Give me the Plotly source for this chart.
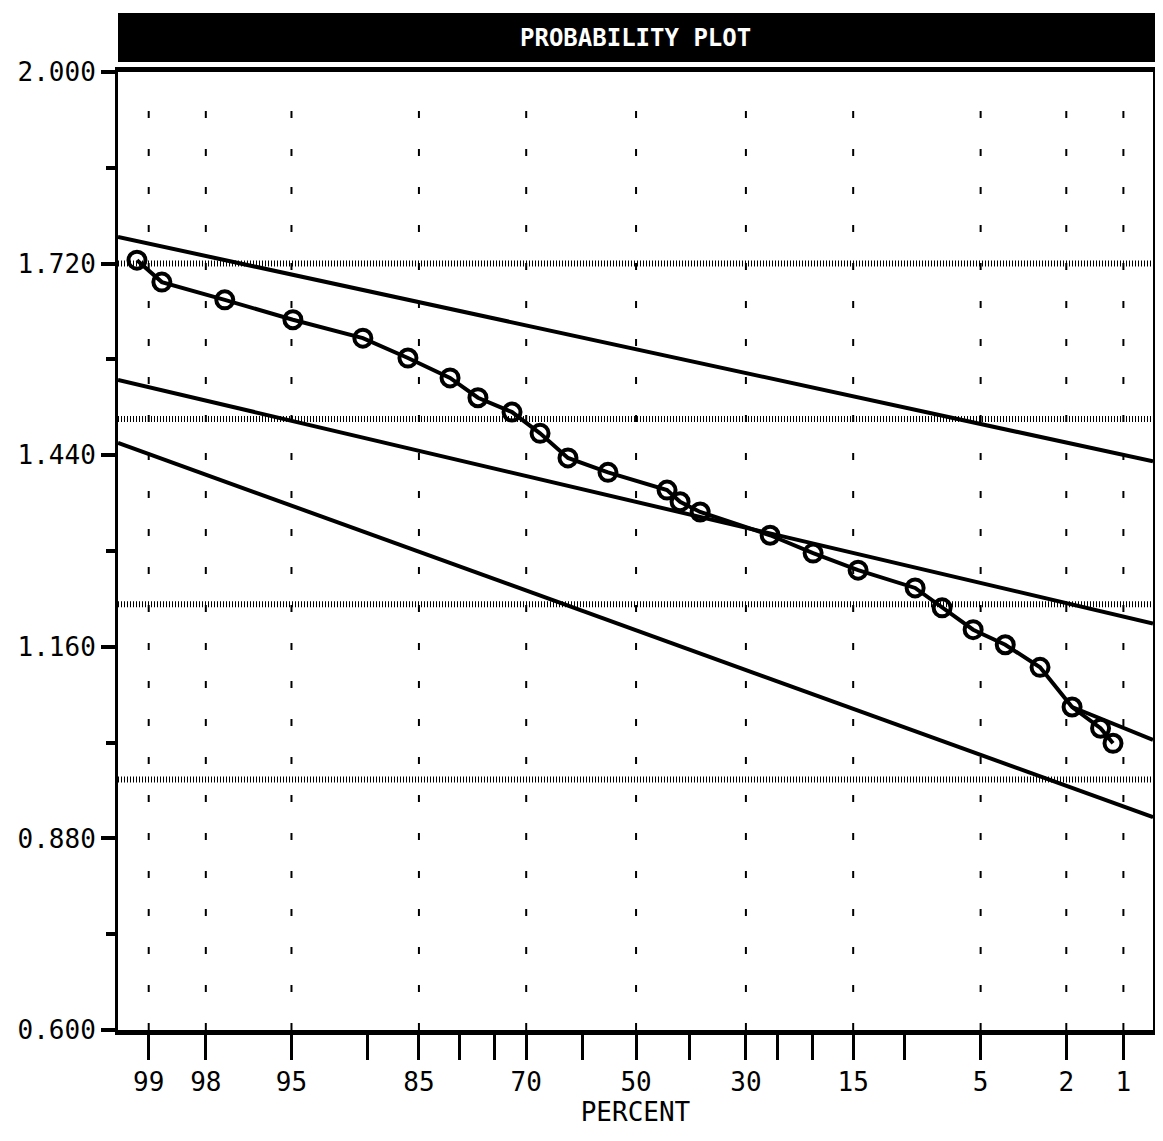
import plotly.graph_objects as go
from statistics import NormalDist

# ---------------- data ----------------
major_pct = [99, 98, 95, 85, 70, 50, 30, 15, 5, 2, 1]
minor_pct = [90, 80, 75, 60, 40, 25, 20, 10]
y_ticks = [0.600, 0.880, 1.160, 1.440, 1.720, 2.000]
y_minor = [0.740, 1.020, 1.300, 1.580, 1.860]

data_pct = [99.14, 98.82, 97.52, 94.93, 90.39, 86.19, 81.27, 77.48, 72.31, 67.66,
            62.74, 55.33, 44.12, 41.68, 37.98, 26.11, 19.90, 14.46, 9.14, 7.20,
            5.38, 3.90, 2.69, 1.87, 1.33, 1.14]
data_val = [1.725, 1.693, 1.667, 1.638, 1.611, 1.582, 1.553, 1.524, 1.503, 1.472,
            1.436, 1.415, 1.389, 1.372, 1.357, 1.323, 1.297, 1.272, 1.246, 1.217,
            1.185, 1.163, 1.130, 1.072, 1.041, 1.019]

# curve tail that continues past the last circles to the right edge
tail_pct = [1.87, 0.68]
tail_val = [1.072, 1.024]

edge_pct = [99.33, 0.68]
upper_line_val = [1.759, 1.431]
middle_line_val = [1.550, 1.194]
lower_line_val = [1.458, 0.911]

ref_levels = [1.720, 1.493, 1.222, 0.966]

# ---------------- helpers ----------------
nd = NormalDist()


def pos(p):
    return nd.inv_cdf(1 - p / 100.0)


FONT = "DejaVu Sans Mono"
x_lo, x_hi = pos(edge_pct[0]), pos(edge_pct[1])

fig = go.Figure()

# vertical dotted grid at labelled percents
for p in major_pct:
    fig.add_trace(go.Scatter(
        x=[pos(p), pos(p)], y=[0.6, 1.97], mode="lines",
        line=dict(color="black", width=2, dash="7px,31px"),
        hoverinfo="skip", showlegend=False))

# horizontal dotted reference levels
for v in ref_levels:
    fig.add_trace(go.Scatter(
        x=[x_lo, x_hi], y=[v, v], mode="lines",
        line=dict(color="black", width=6, dash="1px,2px"),
        hoverinfo="skip", showlegend=False))

# straight lines
for vals in (upper_line_val, middle_line_val, lower_line_val):
    fig.add_trace(go.Scatter(
        x=[pos(p) for p in edge_pct], y=vals, mode="lines",
        line=dict(color="black", width=4),
        hoverinfo="skip", showlegend=False))

# curve tail
fig.add_trace(go.Scatter(
    x=[pos(p) for p in tail_pct], y=tail_val, mode="lines",
    line=dict(color="black", width=4),
    hoverinfo="skip", showlegend=False))

# data
fig.add_trace(go.Scatter(
    x=[pos(p) for p in data_pct], y=data_val, mode="lines+markers",
    line=dict(color="black", width=4),
    marker=dict(symbol="circle-open", size=17, color="black",
                line=dict(color="black", width=4)),
    showlegend=False))

tick_pct = sorted(major_pct + minor_pct, reverse=True)
tick_text = [str(p) if p in major_pct else "" for p in tick_pct]

# page body has an 8px default margin: figure is sized/offset to compensate
fig.update_layout(
    width=1147, height=1125,
    margin=dict(l=110, r=2, t=64, b=103, autoexpand=False),
    paper_bgcolor="white", plot_bgcolor="white",
    font=dict(family=FONT, color="black", size=26),
    xaxis=dict(
        range=[x_lo, x_hi], automargin=False,
        tickvals=[pos(p) for p in tick_pct], ticktext=tick_text,
        ticks="outside", ticklen=25, tickwidth=3, tickcolor="black",
        showgrid=False, zeroline=False,
        showline=True, linecolor="black", linewidth=5, mirror=True,
        tickfont=dict(family=FONT, size=26),
        title=dict(text="PERCENT", font=dict(family=FONT, size=26), standoff=0),
    ),
    yaxis=dict(
        range=[0.6, 2.0], automargin=False,
        tickvals=y_ticks, ticktext=["%.3f" % v for v in y_ticks],
        ticks="outside", ticklen=14, tickwidth=4, tickcolor="black",
        minor=dict(tickvals=y_minor, ticks="outside",
                   ticklen=9, tickwidth=4, tickcolor="black"),
        showgrid=False, zeroline=False,
        showline=True, linecolor="black", linewidth=3, mirror=True,
        tickfont=dict(family=FONT, size=26),
    ),
)

# title bar
fig.add_shape(type="rect", xref="paper", yref="paper",
              x0=0, x1=1.002, y0=1.0104, y1=1.0616,
              fillcolor="black", line=dict(width=0), layer="above")
fig.add_annotation(xref="paper", yref="paper", x=0.5, y=1.036,
                   xanchor="center", yanchor="middle",
                   text="<b>PROBABILITY PLOT</b>", showarrow=False,
                   font=dict(family=FONT, size=24, color="white"))

fig.write_html("out.html")
